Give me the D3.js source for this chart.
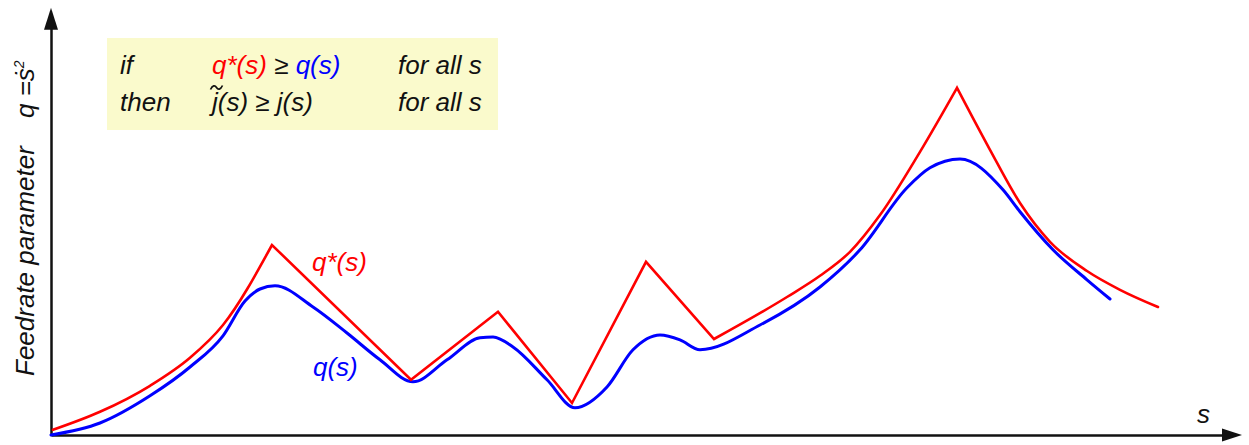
<!DOCTYPE html>
<html>
<head>
<meta charset="utf-8">
<script src="https://cdn.jsdelivr.net/npm/d3@7"></script>
<style>
  html, body { margin: 0; padding: 0; background: #fff; }
  svg { display: block; }
  text { font-family: "Liberation Sans", Arial, sans-serif; font-style: italic; }
</style>
</head>
<body>
<svg id="chart" width="1249" height="445"></svg>
<script>
// Limiting curve q*(s): [s, q] pairs, piecewise smooth with corners
const limitCurve = [
  [0.2, 1.3], [4.9, 5.8], [9.9, 12.3], [13.9, 19.3], [17.2, 27.5],
  [22.1, 47.5],
  [36.0, 13.8],
  [44.7, 30.8],
  [52.1, 8.0],
  [59.5, 43.3],
  [66.3, 24.0], [73.6, 34.5], [76.9, 39.8], [79.9, 45.8], [82.9, 55.0], [86.9, 70.8],
  [90.6, 86.8], [93.9, 71.3], [96.9, 58.0], [99.9, 48.3], [103.6, 41.0], [106.9, 36.3], [110.7, 32.0]
];
// s positions where q*(s) has a corner
const limitCorners = [22.1, 36.0, 44.7, 52.1, 59.5, 66.3, 90.6];

// Smooth feedrate profile q(s)
const feedCurve = [
  [0, 0], [4.9, 3.0], [9.9, 9.8], [13.9, 17.0], [17.2, 24.8], [19.4, 33.5], [20.9, 36.5],
  [22.4, 37.3], [26.2, 32.0], [29.6, 25.5], [32.9, 18.8], [36.2, 13.3],
  [39.6, 18.8], [42.9, 24.3], [44.2, 24.5], [46.2, 22.0], [49.6, 13.8], [52.4, 6.8],
  [55.6, 12.0], [58.2, 21.3], [60.9, 25.0], [62.9, 23.8], [64.9, 21.3], [70.9, 27.5],
  [76.9, 37.0], [80.9, 46.3], [85.6, 61.8], [87.9, 66.8], [90.9, 69.0], [95.2, 61.3],
  [96.9, 55.8], [100.2, 46.3], [103.6, 38.8], [105.9, 34.0]
];

// Axis extents (arrow tips)
const sExtent = [0, 119.1];
const qExtent = [0, 106.8];

// Annotations
const curveLabels = [
  { text: "q*(s)", s: 26.1, q: 41.0, color: "#ff0000" },
  { text: "q(s)", s: 26.2, q: 14.8, color: "#0000ff" }
];
const axisTitleY = "Feedrate parameter";
const axisTitleX = "s";

const svg = d3.select("#chart");
const x = d3.scaleLinear().domain([0, 119]).range([51, 1241]);
const y = d3.scaleLinear().domain([0, 100]).range([435, 35]);

// Condition box
const box = svg.append("g");
box.append("rect")
  .attr("x", 107).attr("y", 38).attr("width", 391).attr("height", 92)
  .attr("fill", "#fafacc");

const fs = 26;
const row1 = 74, row2 = 111;
const t1 = box.append("text").attr("y", row1).attr("font-size", fs).attr("fill", "#111");
t1.append("tspan").attr("x", 120).text("if");
t1.append("tspan").attr("x", 212).attr("fill", "#ff0000").text("q*(s)");
t1.append("tspan").text(" \u2265 ");
t1.append("tspan").attr("fill", "#0000ff").text("q(s)");
t1.append("tspan").attr("x", 398).text("for all s");

const t2 = box.append("text").attr("y", row2).attr("font-size", fs).attr("fill", "#111");
t2.append("tspan").attr("x", 120).text("then");
t2.append("tspan").attr("x", 212).text("j(s) \u2265 j(s)");
t2.append("tspan").attr("x", 398).text("for all s");
// tilde over the first j
box.append("path")
  .attr("d", "M210.5,89.5 C212.5,85 215,85 216.5,87.5 C218,90 220.5,90 222.5,85.5")
  .attr("fill", "none").attr("stroke", "#111").attr("stroke-width", 1.7);

// Axes: library axes with no ticks, plus arrowheads
const xAxisScale = d3.scaleLinear().domain(sExtent).range([x(sExtent[0]), x(sExtent[1]) - 16]);
const yAxisScale = d3.scaleLinear().domain(qExtent).range([y(qExtent[0]), y(qExtent[1]) + 18]);

svg.append("g").attr("transform", `translate(0,${y(0)})`)
  .call(d3.axisBottom(xAxisScale).tickValues([]).tickSizeOuter(0))
  .call(g => g.select(".domain").attr("stroke", "#111").attr("stroke-width", 2.5));
svg.append("g").attr("transform", `translate(${x(0)},0)`)
  .call(d3.axisLeft(yAxisScale).tickValues([]).tickSizeOuter(0))
  .call(g => g.select(".domain").attr("stroke", "#111").attr("stroke-width", 2.5));

const xTip = x(sExtent[1]), yTip = y(qExtent[1]);
svg.append("path")
  .attr("d", `M${xTip},${y(0)} L${xTip - 20},${y(0) - 6.5} L${xTip - 20},${y(0) + 6.5} Z`)
  .attr("fill", "#111");
svg.append("path")
  .attr("d", `M${x(0)},${yTip} L${x(0) - 7},${yTip + 22} L${x(0) + 7},${yTip + 22} Z`)
  .attr("fill", "#111");

// Axis titles
svg.append("text")
  .attr("x", 1197).attr("y", 423).attr("font-size", fs).attr("fill", "#111")
  .text(axisTitleX);

const yTitle = svg.append("text")
  .attr("transform", "translate(34,376) rotate(-90)")
  .attr("font-size", fs).attr("fill", "#111");
yTitle.append("tspan").text(axisTitleY);
yTitle.append("tspan").attr("x", 258).text("q =\u1E61");
yTitle.append("tspan").attr("dy", -10).attr("font-size", 14).text("2");

// Curves
const line = d3.line().x(d => x(d[0])).y(d => y(d[1])).curve(d3.curveMonotoneX);

// split q*(s) at its corners so each smooth piece keeps a sharp joint
const pieces = [];
let current = [];
limitCurve.forEach(p => {
  current.push(p);
  if (limitCorners.includes(p[0])) {
    pieces.push(current);
    current = [p];
  }
});
if (current.length > 1) pieces.push(current);
const limitPath = pieces.map((p, i) => {
  const d = line(p);
  return i === 0 ? d : "L" + d.slice(1);
}).join("");

svg.append("path")
  .attr("d", line(feedCurve))
  .attr("fill", "none").attr("stroke", "#0000ff").attr("stroke-width", 3)
  .attr("stroke-linejoin", "round").attr("stroke-linecap", "round");

svg.append("path")
  .attr("d", limitPath)
  .attr("fill", "none").attr("stroke", "#ff0000").attr("stroke-width", 2.6)
  .attr("stroke-linejoin", "miter").attr("stroke-linecap", "round");

// Curve labels
svg.selectAll("text.curve-label")
  .data(curveLabels)
  .join("text")
  .attr("class", "curve-label")
  .attr("x", d => x(d.s)).attr("y", d => y(d.q))
  .attr("font-size", fs).attr("fill", d => d.color)
  .text(d => d.text);
</script>
</body>
</html>
